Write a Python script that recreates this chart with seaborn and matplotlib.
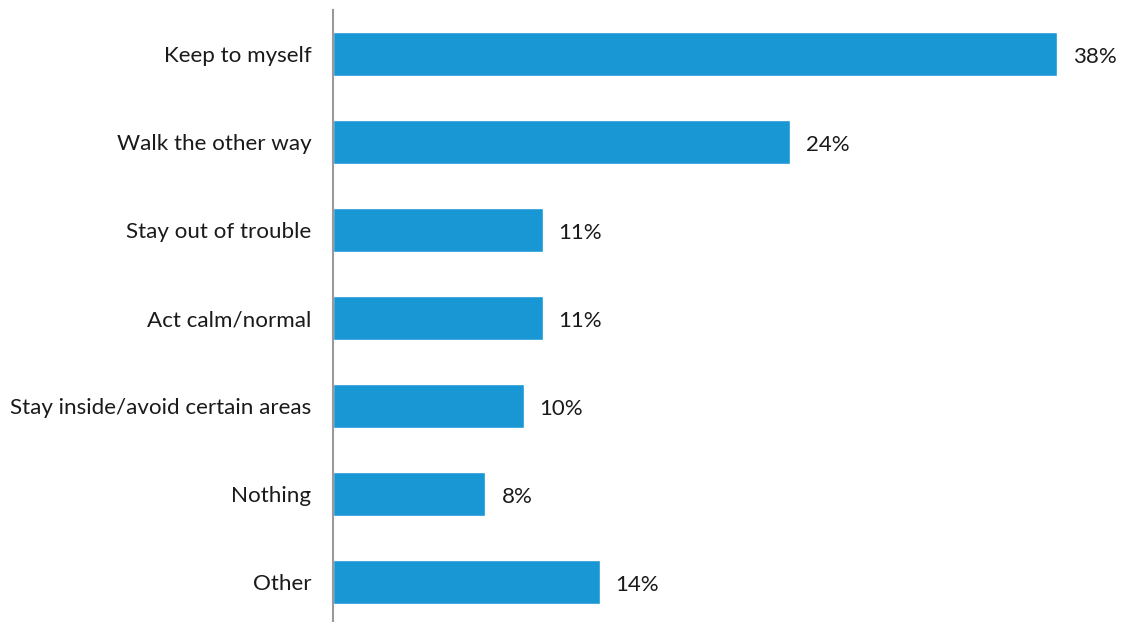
import matplotlib
matplotlib.use("Agg")
import matplotlib.pyplot as plt
import seaborn as sns
import pandas as pd

categories = [
    "Keep to myself",
    "Walk the other way",
    "Stay out of trouble",
    "Act calm/normal",
    "Stay inside/avoid certain areas",
    "Nothing",
    "Other",
]
values = [38, 24, 11, 11, 10, 8, 14]
value_labels = ["38%", "24%", "11%", "11%", "10%", "8%", "14%"]

sns.set_theme(style="white")
plt.rcParams["font.family"] = ["Lato", "DejaVu Sans"]

df = pd.DataFrame({"category": categories, "value": values})

fig = plt.figure(figsize=(11.23, 6.22), dpi=100)
ax = fig.add_axes([333 / 1123, 0.0, 762 / 1123, 612 / 622])

sns.barplot(data=df, x="value", y="category", color="#1897d4",
            saturation=1, width=0.5, ax=ax, orient="h")

ax.set_xlim(0, 40)
ax.set_ylim(6.45, -0.5)
ax.set_xlabel("")
ax.set_ylabel("")
ax.set_xticks([])

for side in ["top", "right", "bottom"]:
    ax.spines[side].set_visible(False)
ax.spines["left"].set_color("#999999")
ax.spines["left"].set_linewidth(1.5)

ax.tick_params(axis="y", length=0, pad=15.5, labelsize=16.1, labelcolor="#1a1a1a")

for bar, lab in zip(ax.patches, value_labels):
    ax.annotate(lab, (bar.get_width(), bar.get_y() + bar.get_height() / 2),
                xytext=(16, -3), textcoords="offset pixels",
                ha="left", va="center", fontsize=16, color="#1a1a1a")

fig.savefig("out.png", dpi=100)
